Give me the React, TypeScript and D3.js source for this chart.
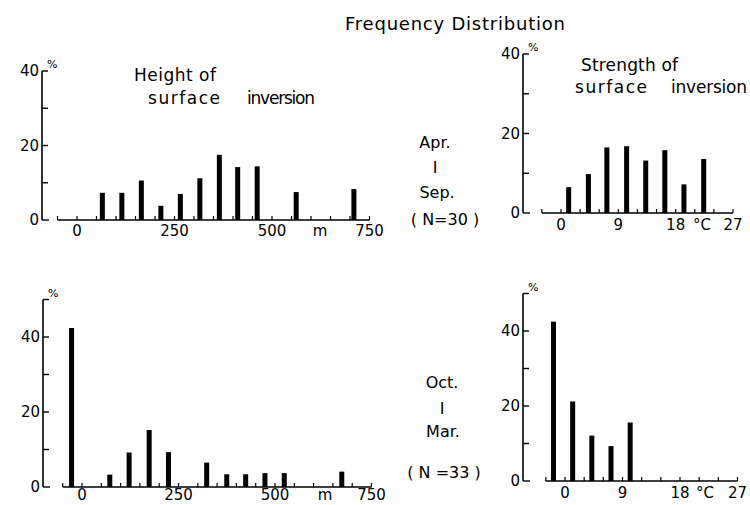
import React from "react";
import * as d3 from "d3";

// ---- data ----
const heightPosAprSep = [65, 115, 165, 215, 265, 315, 365, 412, 462, 562, 710];
const heightPctAprSep = [7.3, 7.3, 10.6, 3.8, 7.0, 11.2, 17.5, 14.2, 14.4, 7.5, 8.3];
const strengthPosAprSep = [1.2, 4.3, 7.2, 10.3, 13.3, 16.3, 19.3, 22.4];
const strengthPctAprSep = [6.5, 9.8, 16.5, 16.8, 13.2, 15.8, 7.2, 13.6];
const heightPosOctMar = [-27, 72, 122, 174, 224, 323, 375, 424, 474, 524, 673];
const heightPctOctMar = [42.4, 3.3, 9.2, 15.2, 9.3, 6.5, 3.4, 3.4, 3.7, 3.7, 4.1];
const strengthPosOctMar = [-1.8, 1.2, 4.2, 7.2, 10.2];
const strengthPctOctMar = [42.5, 21.2, 12.1, 9.3, 15.6];

const heightTickLabels = [0, 250, 500, 750];
const strengthTickLabels = [0, 9, 18, 27];
const yTickLabels = [0, 20, 40];
const yMinorTicks = [10, 30];

const FONT = "DejaVu Sans, sans-serif";

type PanelProps = {
  pos: number[];
  pct: number[];
  xDomain: [number, number];
  xRange: [number, number];
  baseFrom: number;
  baseTo: number;
  baseStep: number;
  axisX: number;
  y0: number;
  y40: number;
  yTop: number;
  xLabels: number[];
  labelGap: number;
  unit: string;
  unitX: number;
};

function Panel(p: PanelProps) {
  const x = d3.scaleLinear().domain(p.xDomain).range(p.xRange);
  const y = d3.scaleLinear().domain([0, 40]).range([p.y0, p.y40]);
  const base = y(0);
  const baseTicks = d3.range(p.baseFrom, p.baseTo + p.baseStep / 2, p.baseStep);
  const barW = 5;
  return (
    <g>
      {/* y axis */}
      <line x1={p.axisX} x2={p.axisX} y1={base} y2={y(p.yTop)} stroke="#000" strokeWidth={1.6} />
      <line x1={p.axisX} x2={p.axisX + 6} y1={y(p.yTop)} y2={y(p.yTop)} stroke="#000" strokeWidth={1.4} />
      <line x1={p.axisX} x2={p.axisX + 7} y1={base} y2={base} stroke="#000" strokeWidth={1.4} />
      {[...yTickLabels, ...yMinorTicks].filter((v) => v > 0 && v !== p.yTop).map((v) => (
        <line key={"yt" + v} x1={p.axisX} x2={p.axisX + 6} y1={y(v)} y2={y(v)} stroke="#000" strokeWidth={1.4} />
      ))}
      {yTickLabels.map((v) => (
        <text key={"yl" + v} x={p.axisX - 3} y={y(v) + 5} textAnchor="end" fontSize={15} fontFamily={FONT}>
          {v}
        </text>
      ))}
      <text x={p.axisX + 5} y={y(p.yTop) - 3} fontSize={11} fontFamily={FONT}>%</text>
      {/* x baseline */}
      <line x1={x(p.baseFrom)} x2={x(p.baseTo)} y1={base} y2={base} stroke="#000" strokeWidth={1.6} />
      {baseTicks.map((v) => (
        <line key={"xt" + v} x1={x(v)} x2={x(v)} y1={base} y2={base - 4} stroke="#000" strokeWidth={1.2} />
      ))}
      {p.xLabels.map((v) => (
        <text key={"xl" + v} x={x(v)} y={base + p.labelGap} textAnchor="middle" fontSize={15} fontFamily={FONT}>
          {v}
        </text>
      ))}
      <text x={p.unitX} y={base + p.labelGap} textAnchor="middle" fontSize={15} fontFamily={FONT}>{p.unit}</text>
      {/* bars */}
      {p.pos.map((v, i) => (
        <rect key={"b" + i} x={x(v) - barW / 2} y={y(p.pct[i])} width={barW} height={base - y(p.pct[i])} fill="#000" />
      ))}
    </g>
  );
}

export default function App() {
  return (
    <svg width={750} height={505} style={{ position: "absolute", left: 0, top: 0, background: "#fff" }}>
      <rect width={750} height={505} fill="#fff" />
      <text x={345} y={30} fontSize={18} fontFamily={FONT} textLength={220} lengthAdjust="spacing">Frequency Distribution</text>

      <g fontSize={17} fontFamily={FONT}>
        <text x={134} y={81} textLength={82} lengthAdjust="spacing">Height of</text>
        <text x={148} y={104} textLength={72} lengthAdjust="spacing">surface</text>
        <text x={247} y={104} textLength={68} lengthAdjust="spacing">inversion</text>
        <text x={581} y={71} textLength={97} lengthAdjust="spacing">Strength of</text>
        <text x={575} y={93} textLength={72} lengthAdjust="spacing">surface</text>
        <text x={671} y={93} textLength={76} lengthAdjust="spacing">inversion</text>
      </g>

      <g fontSize={16} fontFamily={FONT} textAnchor="middle">
        <text x={435} y={148}>Apr.</text>
        <text x={435} y={173}>I</text>
        <text x={437} y={198}>Sep.</text>
        <text x={445} y={225}>( N=30 )</text>
        <text x={442} y={388}>Oct.</text>
        <text x={442} y={414}>I</text>
        <text x={443} y={437}>Mar.</text>
        <text x={444} y={478}>( N =33 )</text>
      </g>

      <Panel pos={heightPosAprSep} pct={heightPctAprSep} xDomain={[0, 750]} xRange={[77, 369.5]}
        baseFrom={-50} baseTo={750} baseStep={50} axisX={42} y0={220} y40={71} yTop={40}
        xLabels={heightTickLabels} labelGap={16} unit="m" unitX={320} />
      <Panel pos={strengthPosAprSep} pct={strengthPctAprSep} xDomain={[0, 27]} xRange={[561, 733]}
        baseFrom={-3} baseTo={27} baseStep={3} axisX={523} y0={213} y40={54} yTop={40}
        xLabels={strengthTickLabels} labelGap={17} unit="°C" unitX={702} />
      <Panel pos={heightPosOctMar} pct={heightPctOctMar} xDomain={[0, 750]} xRange={[82, 371.5]}
        baseFrom={-50} baseTo={750} baseStep={50} axisX={43} y0={487} y40={337} yTop={50}
        xLabels={heightTickLabels} labelGap={13} unit="m" unitX={325} />
      <Panel pos={strengthPosOctMar} pct={strengthPctOctMar} xDomain={[0, 27]} xRange={[565, 737.5]}
        baseFrom={-3} baseTo={27} baseStep={3} axisX={523} y0={481} y40={331} yTop={50}
        xLabels={strengthTickLabels} labelGap={17} unit="°C" unitX={705} />
    </svg>
  );
}
